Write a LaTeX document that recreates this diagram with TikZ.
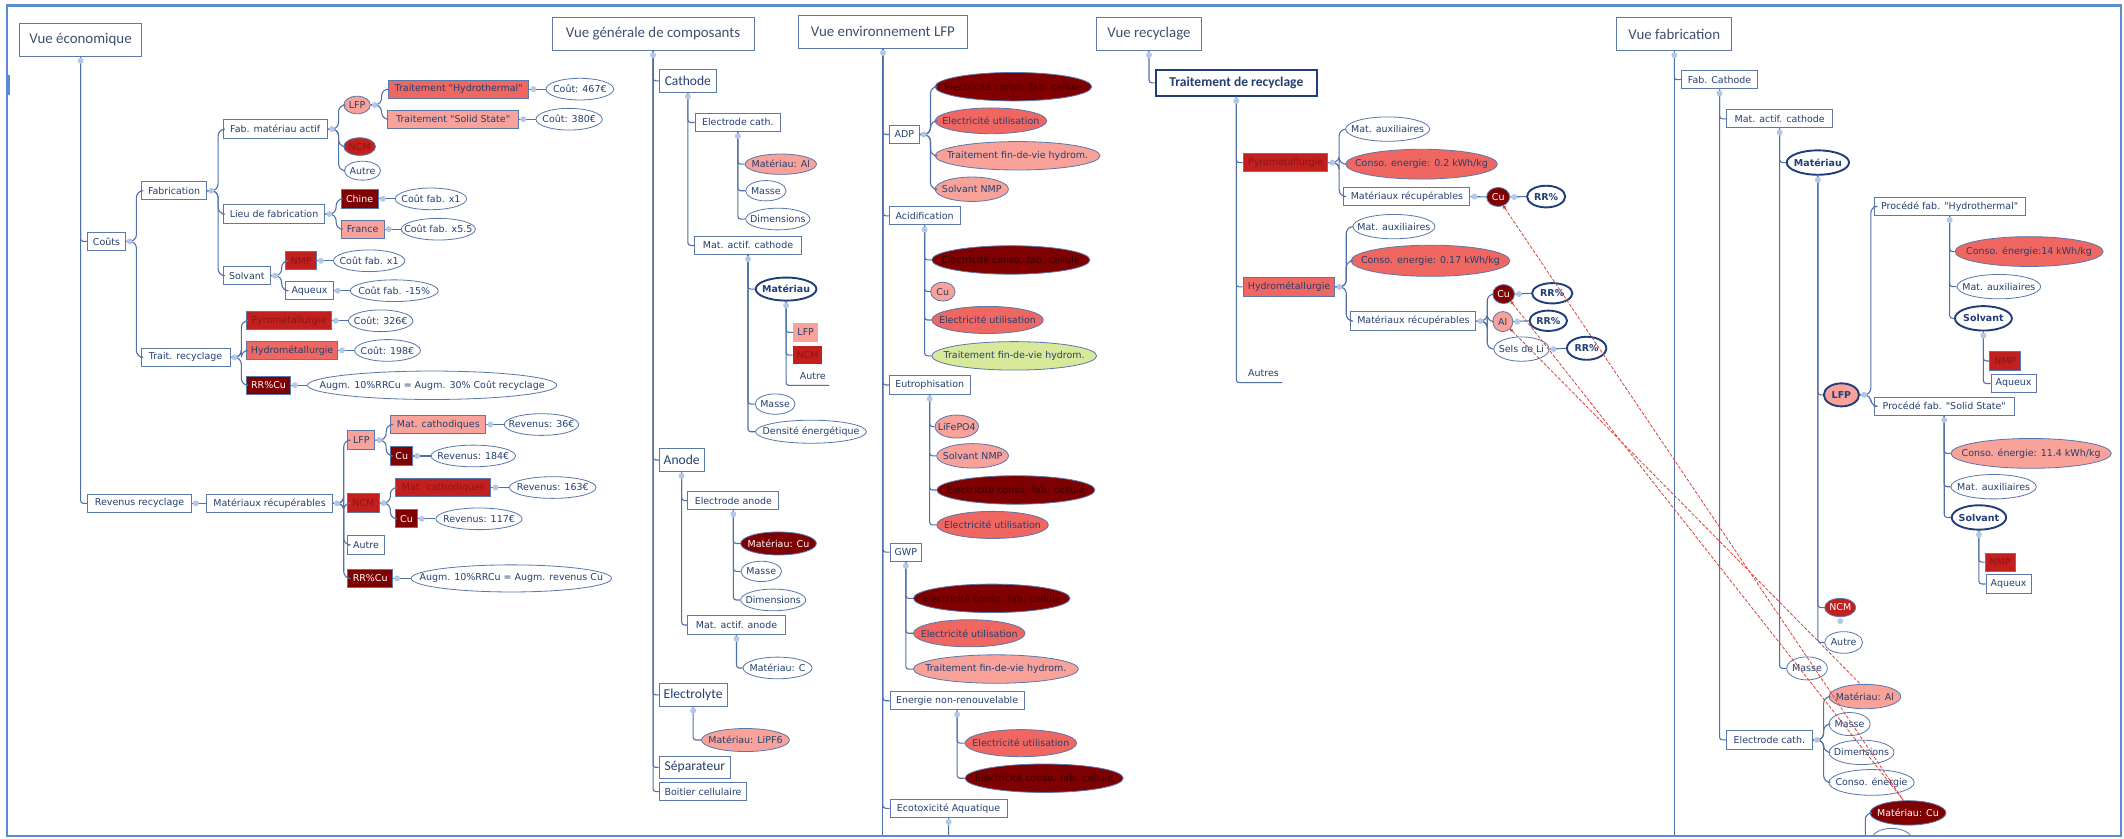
\documentclass[tikz,border=0pt]{standalone}
\usepackage{fontspec}
\newfontfamily\dvs{DejaVu Sans}
\newfontfamily\crl{Carlito}
\usetikzlibrary{shapes.geometric,positioning,arrows.meta}
\definecolor{linec}{HTML}{4F71A8}
\definecolor{boxc}{HTML}{5A78AA}
\definecolor{txtc}{HTML}{243F70}
\definecolor{ttlc}{HTML}{3E5070}
\definecolor{navyc}{HTML}{1F3D7A}
\definecolor{dotc}{HTML}{B4C7E7}
\definecolor{framec}{HTML}{5B8BD0}
\definecolor{lp}{HTML}{F8A29A}
\definecolor{mr}{HTML}{EF6760}
\definecolor{dr}{HTML}{C21F1F}
\definecolor{vdr}{HTML}{7F0000}
\definecolor{grn}{HTML}{D8EA9A}
\definecolor{hidr}{HTML}{8E1515}
\definecolor{hidv}{HTML}{3B0000}
\definecolor{redl}{HTML}{D9453F}
\newcommand{\zb}[1]{\makebox[0pt][c]{#1}}
\newcommand{\ecf}{Electricité conso. fab. cellule}
\begin{document}
\begin{tikzpicture}[x=1pt,y=-1pt,
  nb/.style={font=\dvs\fontsize{7}{8.4}\selectfont, text=txtc},
  bx/.style={nb, rectangle, draw=boxc, line width=0.7pt, fill=white, inner xsep=2.5pt, inner ysep=0pt, minimum height=13.5pt, minimum width=#1pt},
  hdr/.style={bx=#1, font=\crl\fontsize{10}{12}\selectfont, minimum height=16.5pt},
  ttlbox/.style={bx=#1, font=\crl\fontsize{11}{13}\selectfont, text=ttlc, minimum height=24.5pt},
  el/.style args={#1/#2}{nb, ellipse, draw=boxc, line width=0.6pt, fill=white, inner sep=0pt, minimum width=#1pt, minimum height=#2pt},
  bel/.style args={#1/#2}{el=#1/#2, draw=navyc, line width=1.4pt, font=\dvs\bfseries\fontsize{7}{8.4}\selectfont, text=navyc},
  conn/.style={draw=linec, line width=0.8pt, rounded corners=2pt},
  brk/.style={draw=linec, line width=0.8pt, rounded corners=5pt},
  rl/.style={draw=redl, line width=0.6pt, dash pattern=on 2.5pt off 1.2pt, arrows={Circle[length=2.5pt]-}}
]
\useasboundingbox (0,0) rectangle (1568,619);
\fill[white] (0,0) rectangle (1568,619);

% ---------------- Vue economique ----------------
\node[ttlbox=89.6] (E0) at (59.5,29.3) {Vue économique};
\node[bx=27.5] (E1) at (78.6,178.2) {Coûts};
\node[bx=48.3] (E2) at (128.5,140.8) {Fabrication};
\node[bx=65.6] (E3) at (137,263.8) {Trait. recyclage};
\node[bx=76.8] (E4) at (203.2,95.3) {Fab. matériau actif};
\node[bx=75] (E5) at (202.3,158) {Lieu de fabrication};
\node[bx=34.8] (E6) at (182.2,203.5) {Solvant};
\node[el=19.6/13, fill=lp] (E7) at (263.6,77.5) {\zb{LFP}};
\node[el=23.4/13, fill=dr, text=hidr] (E8) at (265.5,108.2) {\zb{NCM}};
\node[el=26.7/14] (E9) at (267.6,126) {\zb{Autre}};
\node[bx=103.6, fill=mr] (E10) at (338.6,65.8) {Traitement "Hydrothermal"};
\node[bx=97, fill=lp] (E11) at (334.5,88) {Traitement "Solid State"};
\node[el=50/16, right=12pt of E10] (E12) {\zb{Coût: 467€}};
\node[el=49/16, right=12pt of E11] (E13) {\zb{Coût: 380€}};
\node[bx=27.4, fill=vdr, text=white] (E14) at (265.5,146.8) {Chine};
\node[bx=31.8, fill=lp] (E15) at (267.7,169.2) {France};
\node[el=52.6/16, right=12pt of E14] (E16) {\zb{Coût fab. x1}};
\node[el=54.7/16, right=12pt of E15] (E17) {\zb{Coût fab. x5.5}};
\node[bx=22.4, fill=dr, text=hidr] (E18) at (222.3,192.5) {NMP};
\node[bx=34.8] (E19) at (228.5,214.6) {Aqueux};
\node[el=52.7/16, right=12pt of E18] (E20) {\zb{Coût fab. x1}};
\node[el=65/16, right=12pt of E19] (E21) {\zb{Coût fab. -15\%}};
\node[bx=62.5, fill=dr, text=hidr] (E22) at (213.3,236.8) {Pyrométallurgie};
\node[bx=67, fill=mr] (E23) at (215.6,258.7) {Hydrométallurgie};
\node[bx=32.3, fill=vdr, text=white] (E24) at (198.2,284.4) {RR\%Cu};
\node[el=47.6/16, right=12pt of E22] (E25) {\zb{Coût: 326€}};
\node[el=48.6/16, right=12pt of E23] (E26) {\zb{Coût: 198€}};
\node[el=184/21, right=12pt of E24] (E27) {\zb{Augm. 10\%RRCu = Augm. 30\% Coût recyclage}};
\node[bx=76.3] (E28) at (103,371.6) {Revenus recyclage};
\node[bx=92.8] (E29) at (199,371.6) {Matériaux récupérables};
\node[bx=19.9, fill=lp] (E30) at (266.8,324.9) {LFP};
\node[bx=23, fill=dr, text=hidr] (E31) at (268.3,371.4) {NCM};
\node[bx=26.8] (E32) at (270.2,402.3) {Autre};
\node[bx=33, fill=vdr, text=white] (E33) at (273.3,427) {RR\%Cu};
\node[bx=70, fill=lp] (E34) at (323.6,313.4) {Mat. cathodiques};
\node[bx=16, fill=vdr, text=white] (E35) at (296.6,336.6) {Cu};
\node[bx=70.4, fill=dr, text=hidr] (E36) at (327.2,359.9) {Mat. cathodiques};
\node[bx=16, fill=vdr, text=white] (E37) at (300.1,383) {Cu};
\node[el=55/16, right=13pt of E34] (E38) {\zb{Revenus: 36€}};
\node[el=62.3/16, right=13pt of E35] (E39) {\zb{Revenus: 184€}};
\node[el=64/16, right=13pt of E36] (E40) {\zb{Revenus: 163€}};
\node[el=63.7/16, right=13pt of E37] (E41) {\zb{Revenus: 117€}};
\node[el=148/20, right=13pt of E33] (E42) {\zb{Augm. 10\%RRCu = Augm. revenus Cu}};

% ---------------- Vue generale de composants ----------------
\node[ttlbox=149] (G0) at (482.1,25.1) {Vue générale de composants};
\node[hdr=42.2] (G1) at (507.8,59.7) {Cathode};
\node[bx=63.3] (G2) at (544.7,90.4) {Electrode cath.};
\node[el=52.7/15, fill=lp] (G3) at (576.4,121.2) {\zb{Matériau: Al}};
\node[el=29.8/15] (G4) at (565.4,140.8) {\zb{Masse}};
\node[el=47.5/16] (G5) at (574.2,161.7) {\zb{Dimensions}};
\node[bx=78.4] (G6) at (552.2,181.2) {Mat. actif. cathode};
\node[bel=44.8/17] (G7) at (580.3,213.4) {\zb{Matériau}};
\node[bx=18.4, draw=none, fill=lp] (G8) at (594.8,245.4) {LFP};
\node[bx=21, draw=none, fill=dr, text=hidr] (G9) at (596.1,262.2) {NCM};
\node[nb, inner xsep=2.5pt, inner ysep=0pt, minimum height=13.5pt] (G10) at (600,277.5) {Autre};
\node[el=29.5/15] (G11) at (572.2,298.3) {\zb{Masse}};
\node[el=81.7/17] (G12) at (598.7,318.7) {\zb{Densité énergétique}};
\node[hdr=33] (G13) at (503.2,339.6) {Anode};
\node[bx=67.2] (G14) at (541.4,369.5) {Electrode anode};
\node[el=55.9/17, fill=vdr, text=white] (G15) at (574.7,401.2) {\zb{Matériau: Cu}};
\node[el=30/15] (G16) at (562,421.8) {\zb{Masse}};
\node[el=48/16] (G17) at (570.8,442.9) {\zb{Dimensions}};
\node[bx=71.7] (G18) at (543.7,461.4) {Mat. actif. anode};
\node[el=50.9/16] (G19) at (574,493.1) {\zb{Matériau: C}};
\node[hdr=50] (G20) at (511.7,513) {Electrolyte};
\node[el=65/17, fill=lp] (G21) at (550.3,546.3) {\zb{Matériau: LiPF6}};
\node[hdr=52.7] (G22) at (513,566.5) {Séparateur};
\node[bx=64.6] (G23) at (519,584.4) {Boitier cellulaire};

% ---------------- Vue environnement LFP ----------------
\node[ttlbox=124.5] (V0) at (651.8,23.4) {Vue environnement LFP};
\node[bx=21.9] (V1) at (667.6,99.3) {ADP};
\node[el=115.6/21, fill=vdr, text=hidv] (V2) at (748.1,64) {\zb{\ecf}};
\node[el=82.4/19, fill=mr] (V3) at (731.5,89.2) {\zb{Electricité utilisation}};
\node[el=121.8/21, fill=lp] (V4) at (751.2,115) {\zb{Traitement fin-de-vie hydrom.}};
\node[el=54.1/18, fill=lp] (V5) at (717.4,139.7) {\zb{Solvant NMP}};
\node[bx=52.2] (V6) at (682.6,159.3) {Acidification};
\node[el=116.8/21, fill=vdr, text=hidv] (V7) at (746.2,191.9) {\zb{\ecf}};
\node[el=18/14, fill=lp] (V8) at (696,215.3) {\zb{Cu}};
\node[el=82.4/20, fill=mr] (V9) at (729,236.2) {\zb{Electricité utilisation}};
\node[el=121.8/21, fill=grn] (V10) at (748.7,262.7) {\zb{Traitement fin-de-vie hydrom.}};
\node[bx=59.6] (V11) at (686.3,284.2) {Eutrophisation};
\node[el=32/17, fill=lp] (V12) at (706.3,314.9) {\zb{LiFePO4}};
\node[el=53/18, fill=lp] (V13) at (718,336.5) {\zb{Solvant NMP}};
\node[el=116.8/21, fill=vdr, text=hidv] (V14) at (749.9,361.7) {\zb{\ecf}};
\node[el=82.4/20, fill=mr] (V15) at (732.7,387.5) {\zb{Electricité utilisation}};
\node[bx=23.4] (V16) at (668.7,407.6) {GWP};
\node[el=115.6/21, fill=vdr, text=hidv] (V17) at (732.1,441.7) {\zb{\ecf}};
\node[el=82.4/20, fill=mr] (V18) at (715.5,467.5) {\zb{Electricité utilisation}};
\node[el=121.8/21, fill=lp] (V19) at (735.2,493.9) {\zb{Traitement fin-de-vie hydrom.}};
\node[bx=99.2] (V20) at (706.6,517.3) {Energie non-renouvelable};
\node[el=82.4/20, fill=mr] (V21) at (753.6,548.6) {\zb{Electricité utilisation}};
\node[el=116.8/21, fill=vdr, text=hidv] (V22) at (770.8,574.5) {\zb{\ecf}};
\node[bx=86.6] (V23) at (700.3,596.7) {Ecotoxicité Aquatique};

% ---------------- Vue recyclage ----------------
\node[ttlbox=77] (R0) at (848.2,25.1) {Vue recyclage};
\node[bx=119.2, draw=navyc, line width=1.5pt, font=\crl\bfseries\fontsize{10}{12}\selectfont, minimum height=18.9pt] (R1) at (912.7,61.2) {Traitement de recyclage};
\node[bx=62.5, fill=dr, text=hidr] (R2) at (949,120) {Pyrométallurgie};
\node[bx=67.8, fill=mr] (R3) at (951.6,211.8) {Hydrométallurgie};
\node[nb, inner xsep=2.5pt, inner ysep=0pt, minimum height=13.5pt] (R4) at (932.7,275.5) {Autres};
\node[el=62/18] (R5) at (1024.4,95.3) {\zb{Mat. auxiliaires}};
\node[el=112/22, fill=mr] (R6) at (1049.4,121.2) {\zb{Conso. energie: 0.2 kWh/kg}};
\node[bx=93] (R7) at (1038.6,145.1) {Matériaux récupérables};
\node[el=17/14, fill=vdr, text=white] (R8) at (1106,145.4) {\zb{Cu}};
\node[bel=28.2/16] (R9) at (1141.4,145.1) {\zb{RR\%}};
\node[el=60.6/18] (R10) at (1029,167.3) {\zb{Mat. auxiliaires}};
\node[el=117.3/23, fill=mr] (R11) at (1056,192.5) {\zb{Conso. energie: 0.17 kWh/kg}};
\node[bx=92.3] (R12) at (1043.4,237) {Matériaux récupérables};
\node[el=16/14, fill=vdr, text=white] (R13) at (1110,217.1) {\zb{Cu}};
\node[bel=29.8/15] (R14) at (1145.9,216.5) {\zb{RR\%}};
\node[el=14.8/14.8, fill=lp] (R15) at (1109.4,237.4) {\zb{Al}};
\node[bel=27.7/15] (R16) at (1143,236.8) {\zb{RR\%}};
\node[el=40.8/18] (R17) at (1123.2,257.7) {\zb{Sels de Li}};
\node[bel=29/17] (R18) at (1171.3,257.1) {\zb{RR\%}};

% ---------------- Vue fabrication ----------------
\node[ttlbox=85] (F0) at (1236,25.1) {Vue fabrication};
\node[bx=56.5] (F1) at (1269.4,58.8) {Fab. Cathode};
\node[bx=78.6] (F2) at (1313.8,87.7) {Mat. actif. cathode};
\node[bel=46/18] (F3) at (1342,120) {\zb{Matériau}};
\node[bel=26/17, fill=lp] (F4) at (1359.4,291.5) {\zb{LFP}};
\node[bx=111.5] (F5) at (1439.3,152.3) {Procédé fab. "Hydrothermal"};
\node[bx=103.6] (F6) at (1435.3,299.9) {Procédé fab. "Solid State"};
\node[el=109.3/22, fill=mr] (F7) at (1497.9,185.7) {\zb{Conso. énergie:14 kWh/kg}};
\node[el=61.7/18] (F8) at (1475.6,211.6) {\zb{Mat. auxiliaires}};
\node[bel=42/18] (F9) at (1464.2,235) {\zb{Solvant}};
\node[bx=23, fill=dr, text=hidr] (F10) at (1480.1,266.5) {NMP};
\node[bx=33.3] (F11) at (1486.5,283.1) {Aqueux};
\node[el=118.4/22, fill=lp] (F12) at (1499.4,334.7) {\zb{Conso. énergie: 11.4 kWh/kg}};
\node[el=63/18] (F13) at (1471.7,359.3) {\zb{Mat. auxiliaires}};
\node[bel=40.2/18] (F14) at (1460.9,382) {\zb{Solvant}};
\node[bx=22.2, fill=dr, text=hidr] (F15) at (1476.5,415) {NMP};
\node[bx=33.3] (F16) at (1482.8,431.1) {Aqueux};
\node[el=23/13.5, fill=dr, text=white] (F17) at (1358.5,448.5) {\zb{NCM}};
\node[el=28/16] (F18) at (1361,474.3) {\zb{Autre}};
\node[el=30/17] (F19) at (1334,493.4) {\zb{Masse}};
\node[bx=63.4] (F20) at (1306.2,546.2) {Electrode cath.};
\node[el=53/18, fill=lp] (F21) at (1376.7,514.2) {\zb{Matériau: Al}};
\node[el=30.3/17] (F22) at (1365.4,534.5) {\zb{Masse}};
\node[el=48/18] (F23) at (1374.2,555.4) {\zb{Dimensions}};
\node[el=63/19] (F24) at (1381.6,577.6) {\zb{Conso. énergie}};
\node[el=56/18, fill=vdr, text=white] (F25) at (1408.5,600.1) {\zb{Matériau: Cu}};

% ---------------- clipped bottom parts ----------------
\begin{scope}
\clip (5,4) rectangle (1566,617);
\node[el=60/20] (V24) at (733,627) {};
\node[el=30/17] (F26) at (1396.5,620) {\zb{Masse}};
\draw[conn] (V23.south) |- (V24.west);
\draw[brk] (F25.west) -| (1377,640);
\draw[conn] (V0.south) -- (V0.south |- 0,640);
\draw[conn] (F0.south) -- (F0.south |- 0,640);
\end{scope}

% ---------------- trunk connectors ----------------
\foreach \p/\c in {E0/E1,E0/E28,
  G0/G1,G0/G13,G0/G20,G0/G22,G0/G23,G1/G2,G1/G6,G2/G3,G2/G4,G2/G5,G6/G7,G6/G11,G6/G12,G7/G8,G7/G9,
  G13/G14,G13/G18,G14/G15,G14/G16,G14/G17,G18/G19,G20/G21,
  V0/V1,V0/V6,V0/V11,V0/V16,V0/V20,V0/V23,V6/V7,V6/V8,V6/V9,V6/V10,V11/V12,V11/V13,V11/V14,V11/V15,
  V16/V17,V16/V18,V16/V19,V20/V21,V20/V22,
  R0/R1,R1/R2,R1/R3,
  F0/F1,F1/F2,F1/F20,F2/F3,F2/F19,F3/F4,F3/F17,F3/F18,F5/F7,F5/F8,F5/F9,F9/F10,F9/F11,
  F6/F12,F6/F13,F6/F14,F14/F15,F14/F16}
  \draw[conn] (\p.south) |- (\c.west);
\draw[conn] (G7.south) |- (G10.south east);
\draw[conn] (R1.south) |- (R4.south east);

% ---------------- bracket connectors ----------------
\foreach \p/\c in {E1/E2,E1/E3,E2/E4,E2/E5,E2/E6,E4/E7,E4/E8,E4/E9,E7/E10,E7/E11,E5/E14,E5/E15,
  E6/E18,E6/E19,E3/E22,E3/E23,E3/E24,E29/E30,E29/E31,E29/E32,E29/E33,E30/E34,E30/E35,E31/E36,E31/E37,
  V1/V2,V1/V3,V1/V4,V1/V5,
  R2/R5,R2/R6,R2/R7,R3/R10,R3/R11,R3/R12,R12/R13,R12/R15,R12/R17,
  F4/F5,F4/F6,F20/F21,F20/F22,F20/F23,F20/F24}
  \draw[brk] (\p.east) -- ++(8,0) |- (\c.west);

% ---------------- chain connectors ----------------
\foreach \p/\c in {E10/E12,E11/E13,E14/E16,E15/E17,E18/E20,E19/E21,E22/E25,E23/E26,E24/E27,
  E28/E29,E34/E38,E35/E39,E36/E40,E37/E41,E33/E42,
  R7/R8,R8/R9,R13/R14,R15/R16,R17/R18}
  \draw[conn] (\p.east) -- (\c.west);

% ---------------- collapse dots ----------------
\foreach \n in {E0,G0,G1,G2,G6,G7,G13,G14,G18,G20,V0,V6,V11,V16,V20,V23,R0,R1,F0,F1,F2,F3,F5,F9,F6,F14,F17}
  \fill[dotc] ([yshift=-3pt]\n.south) circle (2.2pt);
\foreach \n in {E1,E2,E3,E4,E5,E6,E7,E10,E11,E14,E15,E18,E19,E22,E23,E24,E28,E29,E30,E31,E33,E34,E35,E36,E37,
  V1,R2,R3,R7,R8,R12,R13,R15,R17,F4,F20}
  \fill[dotc] ([xshift=3pt]\n.east) circle (2.2pt);

% ---------------- red dashed links ----------------
\draw[rl] (R8.-60) -- (F25.110);
\draw[rl] (R13.-45) -- (F25.110);
\draw[rl] (R15.-45) -- (F21.110);

% ---------------- frame ----------------
\draw[framec, line width=1.6pt] (5,4) rectangle (1566,617);
\draw[framec, line width=2.6pt] (6,55) -- (6,70);
\end{tikzpicture}
\end{document}
